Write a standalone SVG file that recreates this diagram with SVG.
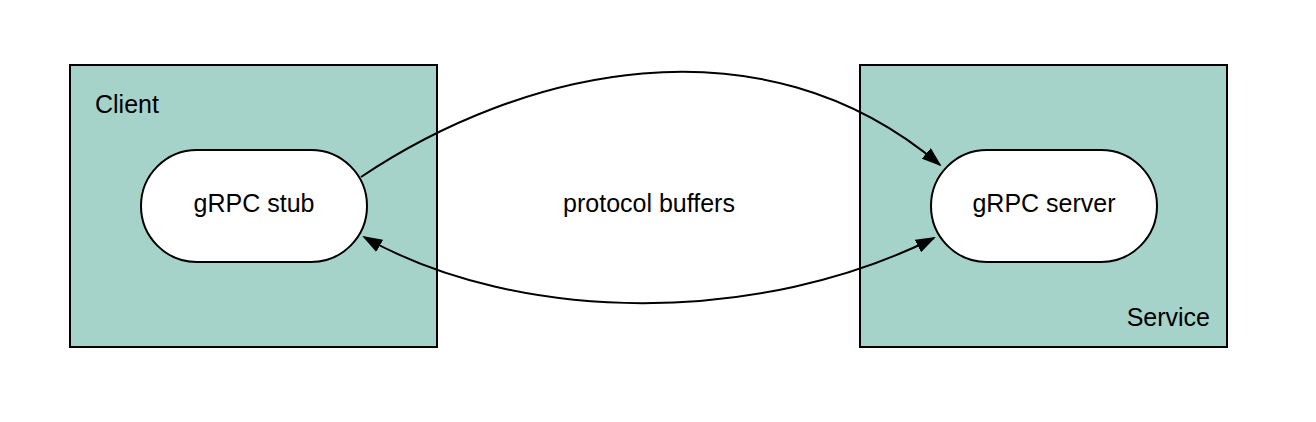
<svg xmlns="http://www.w3.org/2000/svg" width="1316" height="422" viewBox="0 0 1316 422">
<style>
.box{fill:#a5d3ca;stroke:#000;stroke-width:2}
.pill{fill:#fff;stroke:#000;stroke-width:2}
.t{font-family:"Liberation Sans",Arial,sans-serif;font-size:25px;fill:#000}
.c{fill:none;stroke:#000;stroke-width:2}
</style>
<defs>
<marker id="ah" markerWidth="20" markerHeight="14" refX="18" refY="7" orient="auto" markerUnits="userSpaceOnUse"><path d="M0,0 L20,7 L0,14 Z" fill="#000"/></marker>
<marker id="as" markerWidth="20" markerHeight="14" refX="18" refY="7" orient="auto-start-reverse" markerUnits="userSpaceOnUse"><path d="M0,0 L20,7 L0,14 Z" fill="#000"/></marker>
</defs>
<rect width="1316" height="422" fill="#fff"/>
<g id="client"><rect class="box" x="70" y="65" width="367" height="282"/><text class="t" x="95" y="113">Client</text></g>
<g id="service"><rect class="box" x="860" y="65" width="367" height="282"/><text class="t" x="1210" y="326" text-anchor="end">Service</text></g>
<g id="stub"><rect class="pill" x="141" y="150" width="226" height="112" rx="56"/><text class="t" x="254" y="212" text-anchor="middle">gRPC stub</text></g>
<g id="server"><rect class="pill" x="931" y="150" width="226" height="112" rx="56"/><text class="t" x="1044" y="212" text-anchor="middle">gRPC server</text></g>
<g id="connectors">
<path class="c" d="M361,177 C520,70 760,12 940,165" marker-end="url(#ah)"/>
<path class="c" d="M934,238 C760,325 520,325 364,237" marker-start="url(#as)" marker-end="url(#ah)"/>
<text class="t" x="649" y="212" text-anchor="middle">protocol buffers</text>
</g>
</svg>
